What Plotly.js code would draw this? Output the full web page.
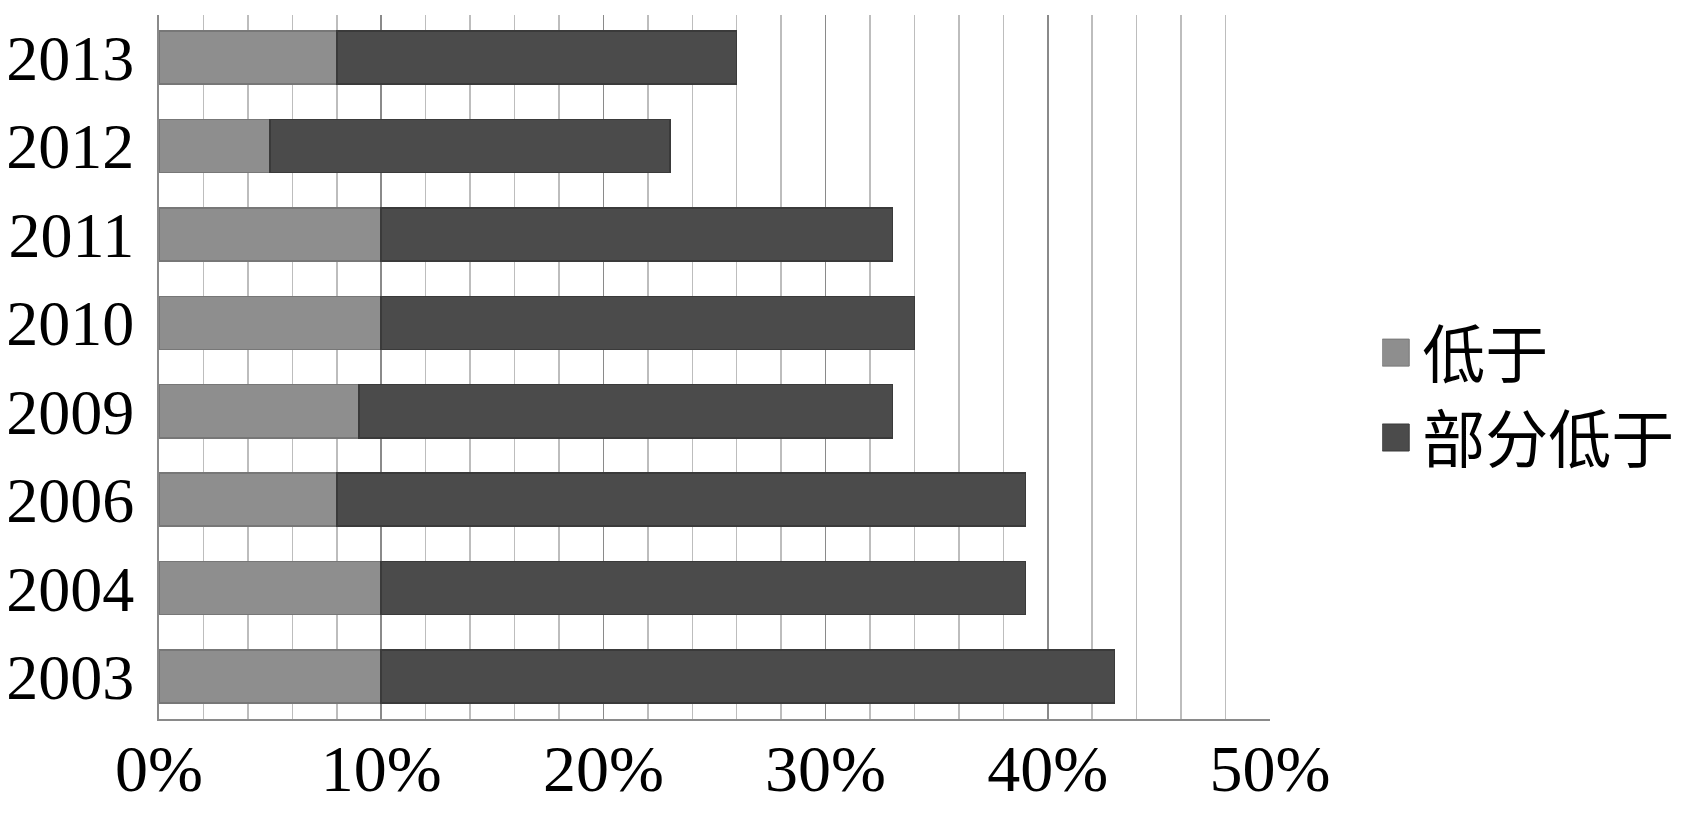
<!DOCTYPE html>
<html>
<head>
<meta charset="utf-8">
<script src="https://cdn.plot.ly/plotly-3.0.1.min.js"></script>
<style>
html,body{margin:0;padding:0;background:#fff;}
#chart{width:1688px;height:819px;}
</style>
</head>
<body>
<div id="chart"></div>
<script>
// Data (bottom to top)
const years = ['2003', '2004', '2006', '2009', '2010', '2011', '2012', '2013'];
const below = [0.10, 0.10, 0.08, 0.09, 0.10, 0.10, 0.05, 0.08];          // 低于
const partlyBelow = [0.33, 0.29, 0.31, 0.24, 0.24, 0.23, 0.18, 0.18];    // 部分低于
const seriesNames = ['低于', '部分低于'];
const xTickVals = [0, 0.1, 0.2, 0.3, 0.4, 0.5];

const serif = 'Liberation Serif, Times New Roman, serif';

const traces = [
  {
    type: 'bar', orientation: 'h', name: seriesNames[0],
    y: years, x: below,
    marker: {color: '#8e8e8e', line: {color: '#777777', width: 1.5}},
    hoverinfo: 'x+y+name'
  },
  {
    type: 'bar', orientation: 'h', name: seriesNames[1],
    y: years, x: partlyBelow,
    marker: {color: '#4b4b4b', line: {color: '#3a3a3a', width: 1.5}},
    hoverinfo: 'x+y+name'
  }
];

const layout = {
  width: 1688, height: 819,
  paper_bgcolor: '#ffffff', plot_bgcolor: '#ffffff',
  margin: {l: 159, r: 418, t: 15, b: 100, pad: 0, autoexpand: false},
  barmode: 'stack',
  bargap: 0.4,
  showlegend: true,
  legend: {
    x: 1.101, xanchor: 'left', y: 0.46, yanchor: 'middle',
    traceorder: 'normal',
    font: {family: 'Noto Sans CJK SC, sans-serif', size: 63, color: '#000'},
    itemwidth: 30, bgcolor: 'rgba(0,0,0,0)'
  },
  xaxis: {
    range: [0, 0.5],
    tickvals: xTickVals,
    tickformat: '.0%',
    showgrid: true, gridcolor: '#8a8a8a', gridwidth: 1.5,
    minor: {dtick: 0.02, showgrid: true, gridcolor: '#bdbdbd', gridwidth: 1.5},
    showline: true, linecolor: '#8a8a8a', linewidth: 2,
    zeroline: false,
    ticks: '',
    ticklabelstandoff: -9,
    tickfont: {family: serif, size: 66, color: '#000'},
    fixedrange: true
  },
  yaxis: {
    type: 'category',
    categoryorder: 'array', categoryarray: years,
    range: [-0.48, 7.48],
    showgrid: false,
    showline: true, linecolor: '#8a8a8a', linewidth: 2,
    zeroline: false,
    ticks: '',
    ticklabelstandoff: 10,
    tickfont: {family: serif, size: 64, color: '#000'},
    fixedrange: true
  }
};

function enlargeLegendSymbols() {
  document.querySelectorAll('#chart .legend .legendpoints path').forEach(p => {
    p.setAttribute('transform', 'translate(20,0)');
    p.setAttribute('d', 'M7,13.5H-20V-13.5H7Z');
    p.style.strokeWidth = '1px';
  });
}

Plotly.newPlot('chart', traces, layout, {displayModeBar: false, staticPlot: true}).then(gd => {
  enlargeLegendSymbols();
  gd.on('plotly_afterplot', enlargeLegendSymbols);
});
</script>
</body>
</html>
